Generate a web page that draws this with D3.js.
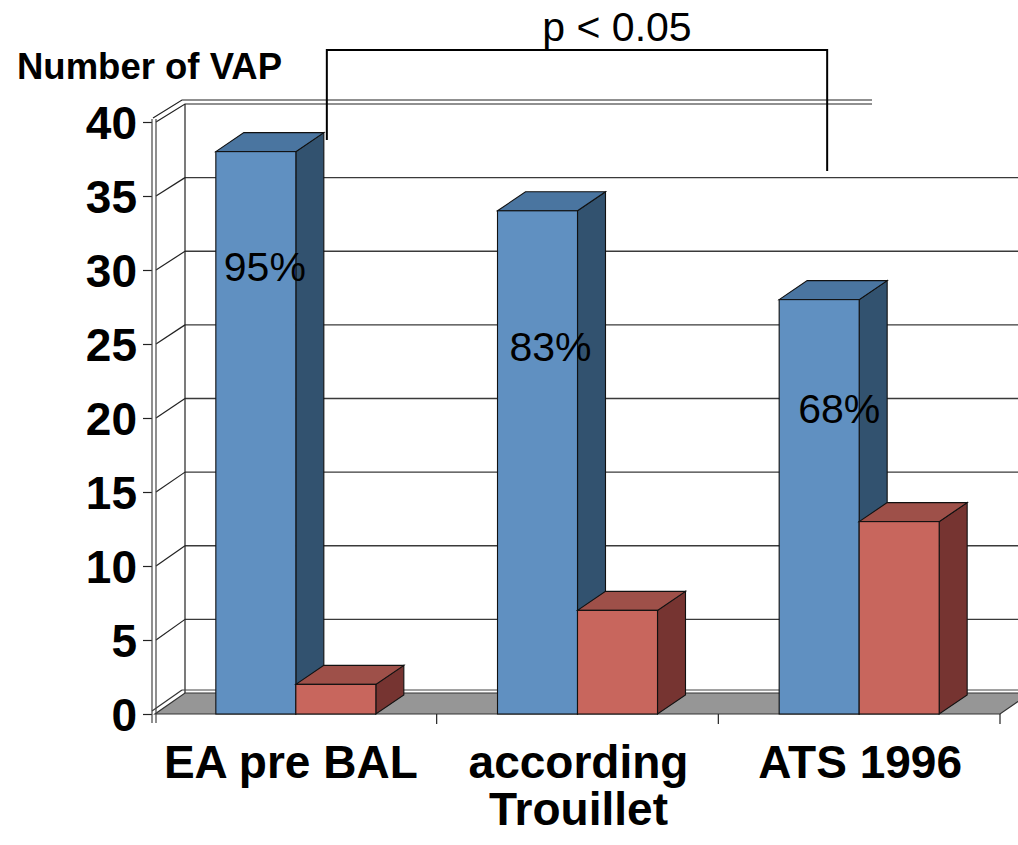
<!DOCTYPE html>
<html>
<head>
<meta charset="utf-8">
<script src="https://cdn.jsdelivr.net/npm/d3@7"></script>
<style>
  html, body { margin: 0; padding: 0; background: #fff; }
  svg { display: block; font-family: Arial, "Liberation Sans", sans-serif; }
</style>
</head>
<body>
<svg id="chart" width="1018" height="845"></svg>
<script>
// ---- data ----
const categories = ["EA pre BAL", "according Trouillet", "ATS 1996"];
const categoryLines = [["EA pre BAL"], ["according", "Trouillet"], ["ATS 1996"]];
const series = ["confirmed", "not confirmed"];
const confirmedVAP = [38, 34, 28];
const notConfirmedVAP = [2, 7, 13];
const percentLabels = ["95%", "83%", "68%"];
const yTickValues = [0, 5, 10, 15, 20, 25, 30, 35, 40];
const yTitle = "Number of VAP";
const significance = "p < 0.05";

// ---- layout ----
const W = 1018, H = 845;
const svg = d3.select("#chart");

const xLeft = 155, xRight = 1000;
const wallDX = 30;             // oblique depth offset of the back wall
const barDX = 28, barDY = -19; // oblique depth offset of the bar tops / sides

const x = d3.scaleBand().domain(categories).range([xLeft, xRight]).padding(0);
const groupWidth = 160;
const xs = d3.scaleBand().domain(series).range([0, groupWidth]).padding(0);
const groupStart = c => x(c) + (x.bandwidth() - groupWidth) / 2;

const yFront = d3.scaleLinear().domain([0, 40]).range([714, 122]);
const yBack = d3.scaleLinear().domain([0, 40]).range([693, 104]);

const colors = {
  "confirmed": { front: "#6090c1", top: "#4a75a0", side: "#32526f" },
  "not confirmed": { front: "#c8665d", top: "#9e5049", side: "#763431" }
};

const g = svg.append("g");

// ---- back wall gridlines ----
const gridVals = yTickValues.filter(v => v > 0 && v < 40);
g.selectAll("line.grid").data(gridVals).join("line")
  .attr("class", "grid")
  .attr("x1", xLeft + wallDX).attr("x2", W + 20)
  .attr("y1", d => yBack(d)).attr("y2", d => yBack(d))
  .attr("stroke", "#3a3a3a").attr("stroke-width", 1.4);

// left wall diagonals
g.selectAll("line.side").data(gridVals).join("line")
  .attr("class", "side")
  .attr("x1", xLeft + 1).attr("y1", d => yFront(d))
  .attr("x2", xLeft + wallDX).attr("y2", d => yBack(d))
  .attr("stroke", "#222").attr("stroke-width", 1.2);

// top edge of the walls (double line)
[[0, 0], [-3, -4]].forEach(([ox, oy]) => {
  g.append("polyline")
    .attr("points", [
      [xLeft + ox + 1, yFront(40) + oy],
      [xLeft + wallDX + ox, yBack(40) + oy],
      [872, yBack(40) + oy]
    ].map(p => p.join(",")).join(" "))
    .attr("fill", "none").attr("stroke", "#222").attr("stroke-width", 1.2);
});

// back wall left edge
g.append("line")
  .attr("x1", xLeft + wallDX).attr("x2", xLeft + wallDX)
  .attr("y1", yBack(40)).attr("y2", yBack(0))
  .attr("stroke", "#222").attr("stroke-width", 1.2);

// back wall bottom edge (double)
g.append("line")
  .attr("x1", xLeft + wallDX - 3).attr("x2", W + 20)
  .attr("y1", yBack(0) - 3).attr("y2", yBack(0) - 3)
  .attr("stroke", "#444").attr("stroke-width", 1.2);

// ---- floor ----
g.append("polygon")
  .attr("points", [
    [xLeft, yFront(0)], [xRight, yFront(0)],
    [xRight + wallDX, yBack(0)], [xLeft + wallDX, yBack(0)]
  ].map(p => p.join(",")).join(" "))
  .attr("fill", "#969696").attr("stroke", "#333").attr("stroke-width", 1.2);
g.append("line")
  .attr("x1", xLeft - 3).attr("y1", yFront(0) - 3)
  .attr("x2", xLeft + wallDX - 3).attr("y2", yBack(0) - 3)
  .attr("stroke", "#333").attr("stroke-width", 1.2);

// ---- bars ----
const bars = [];
categories.forEach((c, i) => {
  bars.push({ cat: c, s: "confirmed", v: confirmedVAP[i] });
  bars.push({ cat: c, s: "not confirmed", v: notConfirmedVAP[i] });
});

const barG = g.selectAll("g.bar").data(bars).join("g").attr("class", "bar");
barG.each(function(d) {
  const sel = d3.select(this);
  const x0 = groupStart(d.cat) + xs(d.s);
  const x1 = x0 + xs.bandwidth();
  const yt = yFront(d.v), yb = yFront(0);
  const c = colors[d.s];
  const pts = a => a.map(p => p.join(",")).join(" ");
  // side face
  sel.append("polygon")
    .attr("points", pts([[x1, yb], [x1, yt], [x1 + barDX, yt + barDY], [x1 + barDX, yb + barDY]]))
    .attr("fill", c.side).attr("stroke", "#111").attr("stroke-width", 1.1);
  // top face
  sel.append("polygon")
    .attr("points", pts([[x0, yt], [x1, yt], [x1 + barDX, yt + barDY], [x0 + barDX, yt + barDY]]))
    .attr("fill", c.top).attr("stroke", "#111").attr("stroke-width", 1.1);
  // front face
  sel.append("rect")
    .attr("x", x0).attr("y", yt)
    .attr("width", x1 - x0).attr("height", yb - yt)
    .attr("fill", c.front).attr("stroke", "#111").attr("stroke-width", 1.1);
});

// percentage labels on the confirmed bars
const pctOffset = [[9, 129], [13, 150], [20, 123]];
g.selectAll("text.pct").data(percentLabels).join("text")
  .attr("class", "pct")
  .attr("x", (d, i) => groupStart(categories[i]) + xs("confirmed") + xs.bandwidth() / 2 + pctOffset[i][0])
  .attr("y", (d, i) => yFront(confirmedVAP[i]) + pctOffset[i][1])
  .attr("text-anchor", "middle")
  .attr("font-size", 41)
  .attr("fill", "#000")
  .text(d => d);

// ---- y axis ----
const yAxis = d3.axisLeft(yFront).tickValues(yTickValues).tickSize(9).tickPadding(6).tickFormat(d3.format("d"));
const yAxisG = svg.append("g").attr("transform", `translate(${xLeft - 3},0)`).call(yAxis);
yAxisG.select(".domain").remove();
yAxisG.selectAll(".tick line").attr("stroke", "#222").attr("stroke-width", 1.2);
yAxisG.selectAll(".tick text")
  .attr("font-size", 46).attr("font-weight", "bold").attr("fill", "#000")
  .attr("font-family", "Arial, 'Liberation Sans', sans-serif")
  .attr("dy", "0.36em");
// double front axis line
[xLeft - 3, xLeft + 1].forEach(xx => {
  svg.append("line")
    .attr("x1", xx).attr("x2", xx)
    .attr("y1", yFront(40) - 3).attr("y2", yFront(0) + 9)
    .attr("stroke", "#444").attr("stroke-width", 1.2);
});

// ---- x axis ----
const boundaries = categories.map(c => x(c) + x.bandwidth());
svg.selectAll("line.xtick").data(boundaries).join("line")
  .attr("class", "xtick")
  .attr("x1", d => d).attr("x2", d => d)
  .attr("y1", yFront(0)).attr("y2", yFront(0) + 10)
  .attr("stroke", "#222").attr("stroke-width", 1.2);

const labelShift = [-5, 1, 1];
const xLab = svg.selectAll("text.xlab").data(categories).join("text")
  .attr("class", "xlab")
  .attr("text-anchor", "middle")
  .attr("font-size", 46).attr("font-weight", "bold").attr("fill", "#000");
xLab.each(function(d, i) {
  const cx = groupStart(d) + groupWidth / 2 + labelShift[i];
  d3.select(this).selectAll("tspan").data(categoryLines[i]).join("tspan")
    .attr("x", cx)
    .attr("y", (t, j) => 778 + j * 47)
    .text(t => t);
});

// ---- titles ----
svg.append("text")
  .attr("x", 17).attr("y", 79)
  .attr("font-size", 36.5).attr("font-weight", "bold").attr("fill", "#000")
  .text(yTitle);

// significance bracket
const bx0 = groupStart(categories[0]) + groupWidth / 2 + 31;
const bx1 = groupStart(categories[2]) + groupWidth / 2 - 32;
svg.append("polyline")
  .attr("points", [[bx0, 140], [bx0, 50], [bx1, 50], [bx1, 171]].map(p => p.join(",")).join(" "))
  .attr("fill", "none").attr("stroke", "#000").attr("stroke-width", 2);
svg.append("text")
  .attr("x", (bx0 + bx1) / 2 + 40).attr("y", 41)
  .attr("text-anchor", "middle")
  .attr("font-size", 41).attr("fill", "#000")
  .text(significance);
</script>
</body>
</html>
